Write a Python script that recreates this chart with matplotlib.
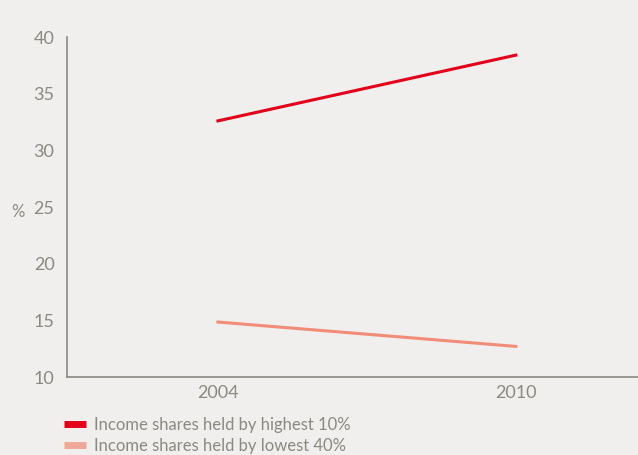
import matplotlib.pyplot as plt

years = [2004, 2010]
highest_10 = [32.6, 38.4]
lowest_40 = [14.85, 12.7]
labels = ["Income shares held by highest 10%", "Income shares held by lowest 40%"]

bg = "#f0efed"
grey = "#8a8a80"
red = "#e2001a"
salmon = "#f08c78"

plt.rcParams["font.family"] = ["Lato", "DejaVu Sans"]

fig = plt.figure(figsize=(6.38, 4.55), dpi=100, facecolor=bg)
ax = fig.add_axes([67 / 638, 1 - 377 / 455, 571 / 638, 340 / 455])
ax.set_facecolor(bg)

ax.plot(years, highest_10, color=red, lw=2.2, label=labels[0])
ax.plot(years, lowest_40, color=salmon, lw=2.2, label=labels[1])

ax.set_xlim(2000.96, 2012.46)
ax.set_ylim(10, 40)
ax.set_xticks(years)
ax.set_yticks(range(10, 41, 5))
ax.tick_params(length=0, colors=grey, labelsize=13, pad=9)
ax.tick_params(axis="x", pad=6)

for s in ["top", "right"]:
    ax.spines[s].set_visible(False)
for s in ["left", "bottom"]:
    ax.spines[s].set_color(grey)
    ax.spines[s].set_linewidth(1.2)

fig.text(18 / 638, 1 - 212 / 455, "%", color=grey, fontsize=12,
         va="center", ha="center")

leg = fig.legend(loc="upper left", bbox_to_anchor=(57 / 638, 1 - 410 / 455),
                 frameon=False, handlelength=1.35, handletextpad=0.45,
                 labelspacing=0.3, fontsize=12, borderaxespad=0.0)
for t in leg.get_texts():
    t.set_color(grey)
for h in leg.legend_handles:
    h.set_linewidth(5)
    h.set_solid_capstyle("butt")
leg.legend_handles[1].set_color("#f0a898")

fig.savefig("out.png", dpi=100, facecolor=bg)
